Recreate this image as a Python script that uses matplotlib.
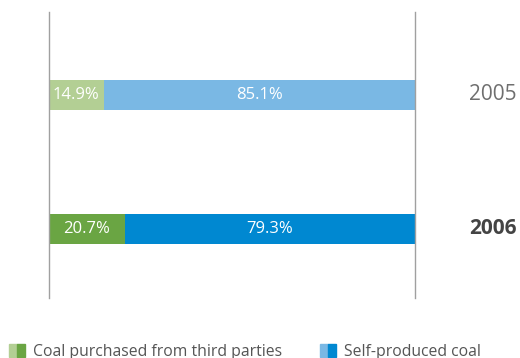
import matplotlib.pyplot as plt
from matplotlib.patches import Patch
from matplotlib.legend_handler import HandlerTuple

years = ['2005', '2006']
purchased = [14.9, 20.7]
self_produced = [85.1, 79.3]
series_names = ['Coal purchased from third parties', 'Self-produced coal']

green = ['#b3cf94', '#6aa543']
blue = ['#7ab8e4', '#0088d1']

plt.rcParams['font.family'] = ['Open Sans', 'DejaVu Sans']

fig = plt.figure(figsize=(5.2, 3.58), dpi=100)
ax = fig.add_axes([49 / 520, 1 - 298 / 358, 366 / 520, 286 / 358])

pos = [0, 1]
h = 0.224
for i, y in enumerate(years):
    ax.barh(pos[i], purchased[i], height=h, color=green[i], linewidth=0)
    ax.barh(pos[i], self_produced[i], left=purchased[i], height=h,
            color=blue[i], linewidth=0)
    ax.text(purchased[i] / 2, pos[i], f'{purchased[i]:.1f}%', color='white',
            ha='center', va='center', fontsize=12)
    ax.text(purchased[i] + self_produced[i] / 2, pos[i], f'{self_produced[i]:.1f}%',
            color='white', ha='center', va='center', fontsize=12)
    bold = i == len(years) - 1
    ax.text(1.279, pos[i], y, transform=ax.get_yaxis_transform(),
            ha='right', va='center', fontsize=15,
            color='#444444' if bold else '#6f6f6f',
            fontweight='bold' if bold else 'normal')

ax.set_xlim(0, 100)
ax.set_ylim(1.515, -0.619)
ax.set_xticks([])
ax.set_yticks([])
for s in ['top', 'bottom']:
    ax.spines[s].set_visible(False)
for s in ['left', 'right']:
    ax.spines[s].set_color('#a0a0a0')
    ax.spines[s].set_linewidth(1)

handles = [(Patch(color=green[0]), Patch(color=green[1])),
           (Patch(color=blue[0]), Patch(color=blue[1]))]
fig.legend(handles, series_names, handler_map={tuple: HandlerTuple(ndivide=None, pad=0)},
           loc='lower left', bbox_to_anchor=(-0.010, -0.045), ncol=2, frameon=False,
           fontsize=11.3, labelcolor='#555555', handlelength=1.0, handleheight=0.9,
           handletextpad=0.55, columnspacing=2.4)

fig.savefig('out.png', dpi=100)
